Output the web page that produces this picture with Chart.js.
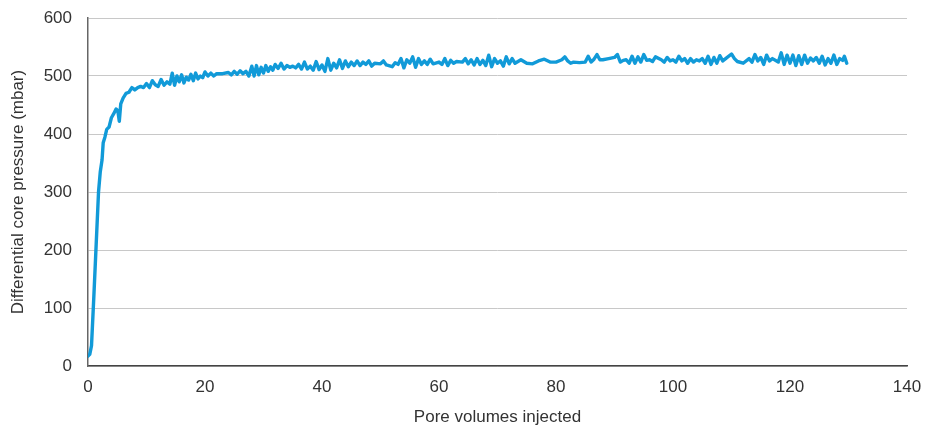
<!DOCTYPE html>
<html>
<head>
<meta charset="utf-8">
<title>Differential core pressure</title>
<script src="https://cdn.jsdelivr.net/npm/chart.js@4/dist/chart.umd.min.js"></script>
<style>
  html, body { margin: 0; padding: 0; background: #fff; }
  #wrap { width: 936px; height: 428px; }
</style>
</head>
<body>
<div id="wrap"><canvas id="chart-pressure" width="936" height="428"></canvas></div>
<script>
// pore volumes injected (x) and differential pressure in mbar (y)
const poreVolumes = [
  0, 0.3, 0.6, 1.0, 1.4, 1.8, 2.1, 2.4, 2.6, 2.9, 3.2, 3.6, 4.0, 4.4, 4.8, 5.1, 5.35, 5.6, 6.0, 6.5,
  7.0, 7.5, 8.0, 8.5, 9.0, 9.5, 10.0, 10.5, 11.0, 11.5, 12.0, 12.5, 13.0, 13.5, 14.0, 14.4, 14.8, 15.2, 15.6, 16.0,
  16.4, 16.8, 17.2, 17.6, 18.0, 18.4, 18.8, 19.2, 19.6, 20.0, 20.5, 21.0, 21.5, 22.0, 23.0, 24.0, 24.5, 25.0, 25.5, 26.0,
  26.5, 27.0, 27.5, 28.0, 28.4, 28.8, 29.2, 29.6, 30.0, 30.4, 30.8, 31.2, 31.6, 32.0, 32.5, 33.0, 33.5, 34.0, 34.5, 35.0,
  35.5, 36.0, 36.5, 37.0, 37.5, 38.0, 38.5, 39.0, 39.5, 40.0, 40.5, 41.0, 41.5, 42.0, 42.5, 43.0, 43.5, 44.0, 44.5, 45.0,
  45.5, 46.0, 46.5, 47.0, 47.5, 48.0, 48.5, 49.0, 50.0, 50.5, 51.0, 52.0, 52.5, 53.0, 53.5, 54.0, 54.5, 55.0, 55.5, 56.0,
  56.5, 57.0, 57.5, 58.0, 58.5, 59.0, 60.0, 60.5, 61.0, 61.5, 62.0, 62.5, 63.0, 64.0, 64.5, 65.0, 65.5, 66.0, 66.5, 67.0,
  67.5, 68.0, 68.5, 69.0, 69.5, 70.0, 70.5, 71.0, 71.5, 72.0, 72.5, 73.0, 74.0, 75.0, 76.0, 77.0, 78.0, 79.0, 80.0, 81.0,
  81.5, 82.0, 82.5, 83.0, 84.0, 85.0, 85.5, 86.0, 86.5, 87.0, 87.5, 88.0, 89.0, 90.0, 90.5, 91.0, 91.5, 92.0, 92.5, 93.0,
  93.5, 94.0, 94.5, 95.0, 95.5, 96.0, 96.5, 97.0, 98.0, 98.5, 99.0, 99.5, 100.0, 100.5, 101.0, 101.5, 102.0, 102.5, 103.0, 103.5,
  104.0, 104.5, 105.0, 105.5, 106.0, 106.5, 107.0, 107.5, 108.0, 108.5, 109.0, 110.0, 110.5, 111.0, 112.0, 113.0, 113.5, 114.0, 114.5, 115.0,
  115.5, 116.0, 116.5, 117.0, 118.0, 118.5, 119.0, 119.5, 120.0, 120.5, 121.0, 121.5, 122.0, 122.5, 123.0, 123.5, 124.0, 124.5, 125.0, 125.5,
  126.0, 126.5, 127.0, 127.5, 128.0, 128.5, 129.0, 129.3, 129.7
];
const pressure = [
  17, 20, 35, 120, 210, 300, 335, 355, 385, 395, 408, 412, 428, 435, 443, 440, 422, 452, 462, 470,
  472, 480, 476, 480, 482, 480, 487, 480, 492, 485, 482, 494, 484, 490, 486, 505, 484, 500, 490, 502,
  488, 498, 493, 503, 492, 505, 495, 500, 497, 507, 500, 505, 500, 504, 504, 506, 502, 508, 503, 509,
  504, 508, 500, 517, 500, 518, 502, 515, 505, 518, 508, 516, 510, 520, 513, 522, 512, 518, 515, 517,
  514, 520, 512, 524, 512, 517, 510, 525, 511, 519, 508, 530, 510, 522, 514, 528, 513, 526, 516, 524,
  518, 526, 518, 524, 520, 526, 517, 522, 521, 526, 519, 516, 523, 520, 530, 514, 528, 522, 533, 515,
  530, 520, 526, 520, 529, 521, 524, 520, 530, 518, 527, 522, 525, 524, 530, 521, 528, 519, 530, 520,
  527, 518, 536, 516, 530, 522, 526, 517, 533, 521, 530, 522, 528, 522, 521, 526, 529, 524, 524, 528,
  533, 526, 522, 524, 523, 524, 534, 524, 529, 537, 528, 528, 530, 532, 537, 524, 527, 528, 522, 534,
  522, 533, 524, 537, 527, 528, 525, 533, 528, 524, 532, 526, 528, 524, 534, 526, 530, 522, 530, 524,
  528, 526, 530, 522, 534, 520, 532, 522, 535, 526, 530, 538, 530, 525, 522, 530, 524, 537, 526, 532,
  520, 536, 526, 530, 524, 540, 520, 536, 522, 536, 518, 535, 520, 536, 522, 531, 526, 532, 522, 534,
  519, 530, 522, 536, 520, 530, 527, 534, 522
];
const xTicks = [0, 20, 40, 60, 80, 100, 120, 140];
const yTicks = [0, 100, 200, 300, 400, 500, 600];

const FONT = { family: '"Liberation Sans", Arial, Helvetica, sans-serif', size: 17 };
const TEXT = '#333333';

const points = poreVolumes.map((v, i) => ({ x: v, y: pressure[i] }));

const ctx = document.getElementById('chart-pressure').getContext('2d');
new Chart(ctx, {
  type: 'line',
  data: {
    datasets: [{
      label: 'Differential core pressure',
      data: points,
      borderColor: '#119ad8',
      borderWidth: 3.4,
      borderJoinStyle: 'round',
      borderCapStyle: 'round',
      pointRadius: 0,
      tension: 0,
      fill: false
    }]
  },
  options: {
    responsive: false,
    animation: false,
    layout: { padding: { top: 18, right: 29, left: 0, bottom: 0 } },
    plugins: { legend: { display: false }, tooltip: { enabled: false } },
    scales: {
      x: {
        type: 'linear',
        min: 0, max: 140,
        afterFit: s => { s.height = 62; s.paddingLeft = 0; s.paddingRight = 0; },
        afterBuildTicks: s => { s.ticks = xTicks.map(v => ({ value: v })); },
        grid: { display: false, drawTicks: false },
        border: { display: true, color: '#444444', width: 1.5 },
        ticks: { color: TEXT, font: FONT, padding: 11, maxRotation: 0 },
        title: {
          display: true, text: 'Pore volumes injected',
          color: TEXT, font: FONT, padding: { top: 0, bottom: 0 }
        }
      },
      y: {
        min: 0, max: 600,
        // keep the plot top fixed by the layout padding, not the label overhang
        afterFit: s => { s.width = 88; s.paddingTop = 0; s.paddingBottom = 0; },
        afterBuildTicks: s => { s.ticks = yTicks.map(v => ({ value: v })); },
        grid: { color: '#c8c8c8', lineWidth: 1, drawTicks: false },
        border: { display: true, color: '#666666', width: 1.5 },
        ticks: { color: TEXT, font: FONT, padding: 16 },
        title: {
          display: true, text: 'Differential core pressure (mbar)',
          color: TEXT, font: FONT, padding: { top: 8, bottom: 0 }
        }
      }
    }
  }
});
</script>
</body>
</html>
